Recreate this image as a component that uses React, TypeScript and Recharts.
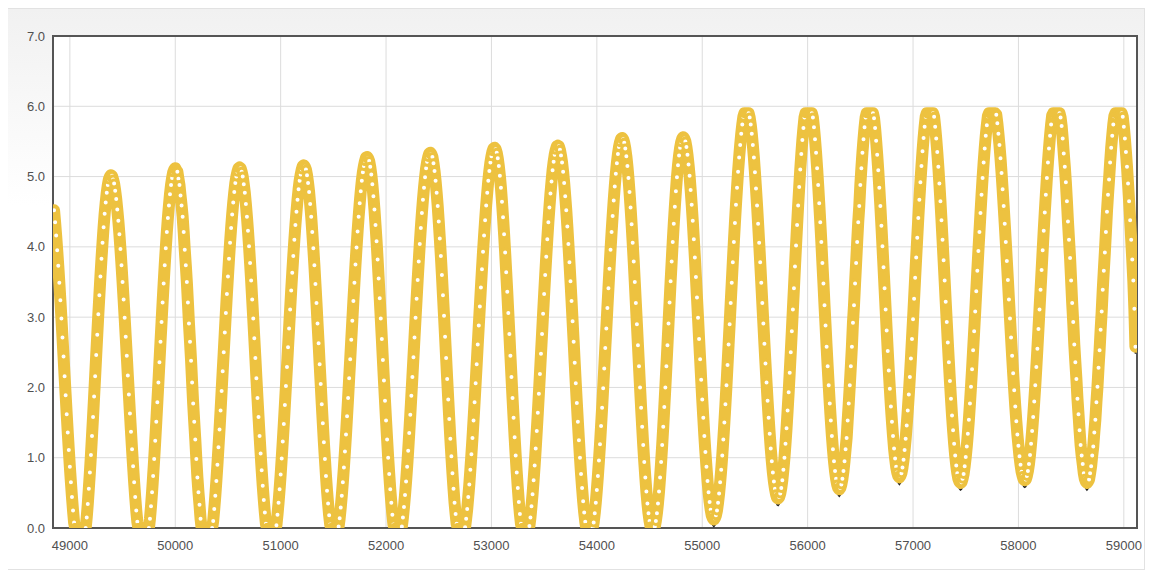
import { LineChart, Line, XAxis, YAxis, CartesianGrid, ReferenceArea } from "recharts";

// one sample every 10 days, starting at day 48850
const firstDay = 48850;
const dayStep = 10;

const values = [
  4.52, 4.35, 4.16, 3.95, 3.73, 3.49, 3.24, 2.98, 2.71, 2.44, 2.16, 1.89, 1.62, 1.36, 1.11, 0.87, 0.65, 0.44, 0.25, 0.08, 0, 0, 0, 0, 0,
  0, 0, 0, 0, 0, 0, 0.15, 0.34, 0.56, 0.79, 1.04, 1.31, 1.58, 1.87, 2.16, 2.46, 2.75, 3.04, 3.31, 3.58, 3.83, 4.06, 4.28, 4.47, 4.63, 4.77, 4.88, 4.96, 5.0,
  5.02, 5.01, 4.96, 4.9, 4.8, 4.68, 4.53, 4.37, 4.18, 3.97, 3.74, 3.5, 3.25, 2.99, 2.72, 2.45, 2.17, 1.9, 1.63, 1.37, 1.12, 0.88, 0.65, 0.44, 0.25, 0.09, 0, 0, 0, 0, 0,
  0, 0, 0, 0, 0, 0, 0.13, 0.31, 0.51, 0.74, 0.98, 1.24, 1.51, 1.79, 2.07, 2.36, 2.65, 2.93, 3.21, 3.48, 3.74, 3.98, 4.21, 4.41, 4.59, 4.75, 4.88, 4.98, 5.06, 5.1,
  5.12, 5.09, 5.07, 4.97, 4.88, 4.73, 4.59, 4.43, 4.21, 3.96, 3.74, 3.5, 3.21, 2.91, 2.65, 2.38, 2.07, 1.77, 1.51, 1.26, 0.98, 0.72, 0.51, 0.33, 0.13, 0, 0, 0, 0, 0,
  0, 0, 0, 0, 0, 0, 0.1, 0.27, 0.46, 0.67, 0.9, 1.15, 1.4, 1.67, 1.95, 2.23, 2.5, 2.78, 3.06, 3.33, 3.58, 3.83, 4.06, 4.27, 4.46, 4.63, 4.78, 4.91, 5.0, 5.07, 5.12,
  5.13, 5.12, 5.07, 5.0, 4.89, 4.77, 4.61, 4.43, 4.23, 4.01, 3.77, 3.52, 3.25, 2.98, 2.7, 2.42, 2.13, 1.85, 1.58, 1.31, 1.06, 0.82, 0.6, 0.4, 0.22, 0.06, 0, 0, 0, 0,
  0, 0, 0, 0, 0, 0.04, 0.19, 0.36, 0.55, 0.76, 0.99, 1.23, 1.48, 1.75, 2.02, 2.29, 2.57, 2.84, 3.11, 3.38, 3.63, 3.87, 4.1, 4.31, 4.5, 4.67, 4.82, 4.94, 5.03, 5.1, 5.15,
  5.16, 5.14, 5.1, 5.02, 4.91, 4.78, 4.61, 4.43, 4.21, 3.98, 3.74, 3.47, 3.2, 2.91, 2.63, 2.33, 2.05, 1.76, 1.49, 1.22, 0.98, 0.74, 0.53, 0.35, 0.18, 0.05, 0, 0, 0,
  0, 0, 0, 0, 0.02, 0.14, 0.29, 0.46, 0.65, 0.86, 1.09, 1.33, 1.59, 1.85, 2.13, 2.4, 2.68, 2.95, 3.23, 3.49, 3.75, 3.99, 4.22, 4.43, 4.62, 4.79, 4.94, 5.06, 5.15, 5.22, 5.27,
  5.28, 5.26, 5.22, 5.14, 5.03, 4.89, 4.72, 4.53, 4.31, 4.08, 3.82, 3.55, 3.27, 2.98, 2.69, 2.39, 2.1, 1.81, 1.53, 1.26, 1.0, 0.77, 0.55, 0.36, 0.19, 0.05, 0, 0, 0,
  0, 0, 0, 0, 0.02, 0.15, 0.3, 0.47, 0.66, 0.87, 1.1, 1.35, 1.61, 1.88, 2.15, 2.43, 2.71, 2.99, 3.26, 3.53, 3.79, 4.04, 4.27, 4.48, 4.67, 4.84, 4.99, 5.12, 5.21, 5.28, 5.33,
  5.34, 5.32, 5.28, 5.19, 5.08, 4.94, 4.77, 4.58, 4.36, 4.12, 3.87, 3.6, 3.31, 3.02, 2.72, 2.42, 2.12, 1.83, 1.55, 1.27, 1.02, 0.78, 0.56, 0.36, 0.2, 0.06, 0, 0, 0,
  0, 0, 0, 0, 0.01, 0.13, 0.27, 0.44, 0.62, 0.83, 1.05, 1.28, 1.53, 1.79, 2.06, 2.33, 2.61, 2.88, 3.15, 3.42, 3.68, 3.93, 4.16, 4.38, 4.59, 4.77, 4.94, 5.08, 5.2, 5.29, 5.36, 5.4,
  5.41, 5.39, 5.34, 5.26, 5.15, 5.01, 4.84, 4.64, 4.42, 4.18, 3.92, 3.64, 3.36, 3.06, 2.76, 2.45, 2.15, 1.85, 1.57, 1.29, 1.03, 0.79, 0.57, 0.37, 0.2, 0.06, 0, 0, 0,
  0, 0, 0, 0, 0.03, 0.15, 0.31, 0.48, 0.68, 0.89, 1.13, 1.38, 1.64, 1.91, 2.19, 2.48, 2.76, 3.05, 3.33, 3.6, 3.86, 4.11, 4.35, 4.56, 4.76, 4.93, 5.09, 5.21, 5.31, 5.38, 5.43,
  5.44, 5.43, 5.38, 5.3, 5.2, 5.07, 4.91, 4.72, 4.52, 4.29, 4.04, 3.78, 3.51, 3.23, 2.94, 2.65, 2.35, 2.06, 1.78, 1.51, 1.25, 1.0, 0.77, 0.57, 0.38, 0.22, 0.09, 0, 0, 0,
  0, 0, 0, 0, 0.08, 0.21, 0.36, 0.54, 0.74, 0.96, 1.19, 1.45, 1.71, 1.99, 2.27, 2.56, 2.84, 3.13, 3.41, 3.69, 3.96, 4.21, 4.44, 4.66, 4.86, 5.04, 5.19, 5.32, 5.42, 5.49, 5.54,
  5.55, 5.53, 5.48, 5.4, 5.29, 5.15, 4.98, 4.78, 4.56, 4.32, 4.06, 3.79, 3.5, 3.2, 2.9, 2.6, 2.3, 2.0, 1.71, 1.44, 1.18, 0.94, 0.72, 0.52, 0.35, 0.21, 0.1, 0.02, 0,
  0, 0, 0.02, 0.1, 0.21, 0.35, 0.52, 0.72, 0.94, 1.18, 1.44, 1.72, 2.0, 2.3, 2.6, 2.91, 3.21, 3.51, 3.79, 4.07, 4.33, 4.57, 4.79, 4.99, 5.16, 5.3, 5.41, 5.49, 5.54,
  5.56, 5.54, 5.5, 5.42, 5.31, 5.17, 5.01, 4.81, 4.6, 4.37, 4.11, 3.85, 3.57, 3.28, 2.99, 2.69, 2.4, 2.11, 1.83, 1.57, 1.31, 1.08, 0.87, 0.67, 0.51, 0.37, 0.26, 0.18, 0.14,
  0.12, 0.14, 0.18, 0.25, 0.36, 0.49, 0.65, 0.83, 1.03, 1.26, 1.5, 1.76, 2.03, 2.32, 2.61, 2.9, 3.2, 3.49, 3.78, 4.07, 4.34, 4.6, 4.84, 5.07, 5.27, 5.45, 5.61, 5.74, 5.85, 5.9, 5.9,
  5.9, 5.9, 5.9, 5.84, 5.74, 5.61, 5.45, 5.27, 5.06, 4.83, 4.59, 4.33, 4.06, 3.78, 3.49, 3.2, 2.91, 2.62, 2.34, 2.07, 1.81, 1.57, 1.34, 1.13, 0.95, 0.79, 0.66, 0.56, 0.48, 0.43,
  0.42, 0.44, 0.49, 0.57, 0.68, 0.83, 1.0, 1.2, 1.42, 1.67, 1.93, 2.21, 2.5, 2.8, 3.11, 3.41, 3.72, 4.02, 4.31, 4.59, 4.85, 5.1, 5.32, 5.52, 5.69, 5.84, 5.9, 5.9, 5.9,
  5.9, 5.9, 5.9, 5.9, 5.84, 5.7, 5.53, 5.34, 5.12, 4.88, 4.62, 4.35, 4.07, 3.77, 3.48, 3.17, 2.88, 2.58, 2.3, 2.03, 1.77, 1.53, 1.31, 1.12, 0.95, 0.81, 0.7, 0.62, 0.57,
  0.55, 0.57, 0.62, 0.7, 0.81, 0.95, 1.12, 1.28, 1.53, 1.77, 2.03, 2.3, 2.58, 2.92, 3.17, 3.48, 3.77, 4.07, 4.35, 4.58, 4.88, 5.12, 5.34, 5.53, 5.7, 5.84, 5.9, 5.9, 5.9,
  5.9, 5.9, 5.9, 5.9, 5.83, 5.69, 5.51, 5.31, 5.09, 4.84, 4.58, 4.3, 4.01, 3.71, 3.41, 3.11, 2.81, 2.52, 2.24, 1.98, 1.73, 1.51, 1.31, 1.13, 0.99, 0.87, 0.79, 0.74,
  0.72, 0.74, 0.78, 0.86, 0.97, 1.11, 1.27, 1.46, 1.67, 1.9, 2.15, 2.41, 2.69, 2.97, 3.26, 3.56, 3.85, 4.13, 4.41, 4.67, 4.92, 5.15, 5.36, 5.55, 5.71, 5.85, 5.9, 5.9, 5.9,
  5.9, 5.9, 5.9, 5.9, 5.85, 5.71, 5.54, 5.35, 5.14, 4.9, 4.65, 4.38, 4.1, 3.81, 3.52, 3.22, 2.93, 2.64, 2.36, 2.09, 1.84, 1.6, 1.39, 1.2, 1.03, 0.89, 0.78, 0.7, 0.66,
  0.64, 0.65, 0.7, 0.77, 0.88, 1.01, 1.16, 1.34, 1.54, 1.77, 2.01, 2.26, 2.53, 2.8, 3.08, 3.37, 3.66, 3.94, 4.21, 4.48, 4.74, 4.98, 5.2, 5.4, 5.58, 5.73, 5.86, 5.9, 5.9, 5.9,
  5.9, 5.9, 5.9, 5.9, 5.88, 5.76, 5.61, 5.45, 5.26, 5.05, 4.82, 4.58, 4.33, 4.07, 3.8, 3.53, 3.25, 2.98, 2.71, 2.45, 2.2, 1.96, 1.73, 1.52, 1.33, 1.17, 1.02, 0.9, 0.8, 0.74, 0.69,
  0.68, 0.69, 0.74, 0.81, 0.91, 1.04, 1.2, 1.38, 1.58, 1.8, 2.03, 2.29, 2.55, 2.83, 3.11, 3.39, 3.67, 3.95, 4.23, 4.49, 4.74, 4.98, 5.2, 5.4, 5.58, 5.74, 5.87, 5.9, 5.9, 5.9,
  5.9, 5.9, 5.9, 5.9, 5.84, 5.72, 5.54, 5.33, 5.14, 4.92, 4.65, 4.36, 4.1, 3.84, 3.52, 3.2, 2.93, 2.61, 2.36, 2.12, 1.84, 1.62, 1.39, 1.18, 1.03, 0.91, 0.78, 0.7, 0.66,
  0.64, 0.66, 0.69, 0.78, 0.88, 1.03, 1.16, 1.36, 1.54, 1.79, 2.01, 2.28, 2.53, 2.82, 3.08, 3.39, 3.66, 3.92, 4.21, 4.5, 4.74, 4.96, 5.2, 5.41, 5.58, 5.74, 5.86, 5.9, 5.9, 5.9,
  5.9, 5.9, 5.9, 5.9, 5.85, 5.71, 5.54, 5.35, 5.14, 4.9, 4.65, 4.38, 4.1, 3.82, 3.52, 3.12, 2.58,
];

const xTicks = [49000, 50000, 51000, 52000, 53000, 54000, 55000, 56000, 57000, 58000, 59000];
const yTicks = [0, 1, 2, 3, 4, 5, 6, 7];

const xDomain = [48840, 59125];
const yDomain = [0, 7];

const chartData = values.map((v, i) => ({ day: firstDay + i * dayStep, value: v }));

const tickStyle = { fill: "#505050", fontSize: 13, fontFamily: "'Liberation Sans', Arial, sans-serif" };
const yellow = "#edc240";

export default function App() {
  return (
    <div
      style={{
        width: 1138,
        height: 562,
        marginLeft: -1,
        boxSizing: "border-box",
        border: "1px solid #e2e2e2",
        background: "linear-gradient(#f1f1f1, #ffffff 35%)",
      }}
    >
      <LineChart width={1136} height={560} data={chartData} margin={{ top: 27, right: 7, bottom: 11, left: 0 }}>
        <CartesianGrid stroke="#dcdcdc" fill="#ffffff" />
        <XAxis
          dataKey="day"
          type="number"
          domain={xDomain}
          ticks={xTicks}
          allowDataOverflow
          axisLine={false}
          tickLine={false}
          tickSize={0}
          tickMargin={13}
          height={30}
          tick={tickStyle}
        />
        <YAxis
          type="number"
          domain={yDomain}
          ticks={yTicks}
          allowDataOverflow
          axisLine={false}
          tickLine={false}
          tickSize={0}
          tickMargin={8}
          width={45}
          tick={tickStyle}
          tickFormatter={(v: number) => v.toFixed(1)}
        />
        {/* hidden axis shifted a few px down, used for the line shadow */}
        <YAxis yAxisId="shadow" hide type="number" domain={[0.1, 7.1]} allowDataOverflow />
        <ReferenceArea x1={xDomain[0]} x2={xDomain[1]} y1={0} y2={7} fill="none" stroke="#555" strokeWidth={2} />
        <Line
          yAxisId="shadow"
          dataKey="value"
          stroke="#222"
          strokeWidth={1.5}
          dot={false}
          activeDot={false}
          isAnimationActive={false}
        />
        <Line
          dataKey="value"
          stroke={yellow}
          strokeWidth={12}
          strokeLinejoin="round"
          strokeLinecap="round"
          dot={{ r: 3.5, fill: "#fff", stroke: yellow, strokeWidth: 3 }}
          activeDot={false}
          isAnimationActive={false}
        />
      </LineChart>
    </div>
  );
}
